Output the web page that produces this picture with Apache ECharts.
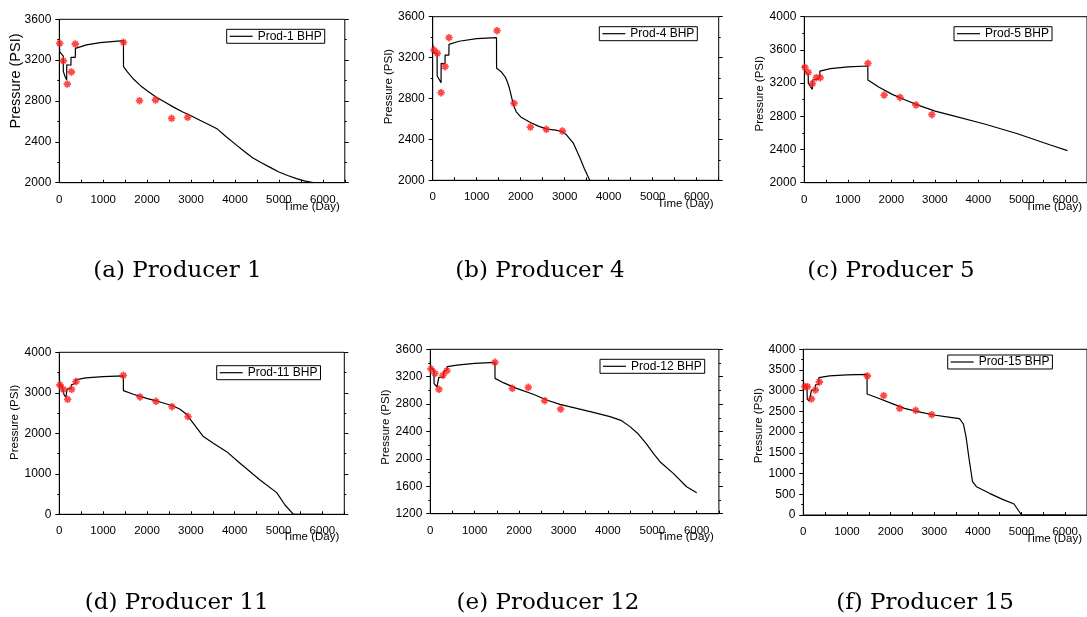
<!DOCTYPE html>
<html><head><meta charset="utf-8">
<script src="https://cdn.jsdelivr.net/npm/echarts@6/dist/echarts.min.js"></script>
<style>html,body{margin:0;padding:0;background:#fff}#c{width:1087px;height:617px}</style>
</head><body><div id="c"></div>
<script>
// ---- data: [time (day), pressure (psi)] ----
const prod1Sim = [[0,3400],[10,3280],[90,3240],[92,3090],[130,3040],[168,3005],[170,3155],[265,3150],[267,3228],[365,3228],[367,3316],[620,3349],[930,3371],[1460,3392],[1462,3136],[1550,3085],[1700,3010],[1850,2950],[2000,2900],[2200,2840],[2400,2790],[2600,2740],[2800,2695],[3000,2655],[3200,2612],[3400,2570],[3600,2525],[3800,2450],[4000,2380],[4200,2310],[4400,2245],[4600,2195],[4800,2150],[5000,2105],[5200,2070],[5400,2040],[5600,2015],[5780,2000]];
const prod1Obs = [[10,3365],[91,3192],[182,2966],[274,3084],[365,3358],[1461,3375],[1826,2803],[2191,2810],[2557,2630],[2922,2640]];

const prod4Sim = [[0,3330],[15,3250],[100,3235],[102,3020],[190,2955],[192,3144],[280,3140],[282,3225],[368,3225],[370,3330],[600,3360],[1000,3385],[1450,3395],[1452,3095],[1550,3065],[1650,3010],[1700,2960],[1750,2890],[1800,2800],[1850,2720],[1900,2670],[2000,2620],[2200,2570],[2400,2530],[2600,2500],[2800,2490],[2950,2475],[3050,2440],[3200,2360],[3350,2215],[3450,2110],[3570,2000]];
const prod4Obs = [[30,3274],[106,3242],[190,2857],[280,3111],[371,3395],[1462,3463],[1848,2752],[2220,2521],[2583,2499],[2947,2482]];

const prod5Sim = [[0,3398],[10,3340],[90,3309],[92,3200],[140,3160],[185,3125],[187,3237],[280,3245],[282,3269],[356,3275],[358,3345],[600,3375],[1000,3395],[1460,3406],[1462,3237],[1720,3149],[2023,3064],[2326,2996],[2629,2932],[3008,2863],[3386,2811],[4144,2707],[4902,2590],[5659,2454],[6050,2386]];
const prod5Obs = [[15,3390],[90,3329],[187,3193],[276,3265],[366,3265],[1463,3438],[1836,3056],[2201,3028],[2567,2936],[2933,2819]];

const prod11Sim = [[0,3520],[8,3210],[60,3170],[95,3130],[110,2950],[150,2890],[178,2870],[180,3100],[270,3100],[275,3200],[365,3230],[370,3317],[600,3370],[1000,3400],[1460,3416],[1462,3053],[1688,2963],[1992,2864],[2297,2774],[2601,2675],[2753,2593],[2905,2469],[3057,2247],[3285,1918],[3513,1753],[3817,1547],[4122,1259],[4578,848],[4958,535],[5148,230],[5340,0],[6000,0]];
const prod11Obs = [[15,3193],[91,3086],[190,2840],[281,3086],[380,3276],[1460,3432],[1840,2897],[2205,2790],[2570,2658],[2935,2412]];

const prod12Sim = [[0,3420],[10,3330],[83,3298],[85,3100],[150,3050],[190,3030],[192,3191],[300,3195],[305,3280],[370,3300],[380,3347],[600,3370],[1000,3395],[1456,3410],[1458,3176],[1644,3113],[1944,3030],[2320,2943],[2620,2860],[2920,2797],[3296,2738],[3671,2680],[4047,2617],[4309,2558],[4497,2471],[4685,2363],[4872,2217],[5023,2081],[5173,1959],[5473,1789],[5773,1594],[6000,1507]];
const prod12Obs = [[15,3313],[105,3249],[195,3016],[285,3220],[375,3288],[1456,3410],[1847,3030],[2207,3045],[2575,2850],[2935,2728]];

const prod15Sim = [[0,3115],[85,3100],[90,2793],[140,2750],[185,2736],[187,3018],[275,3018],[277,3139],[355,3150],[359,3316],[600,3360],[1000,3385],[1460,3396],[1462,2922],[1722,2817],[2021,2696],[2320,2575],[2620,2495],[2994,2414],[3368,2358],[3578,2326],[3668,2197],[3728,1891],[3802,1328],[3877,805],[3967,684],[4266,523],[4566,378],[4828,266],[5000,0],[6010,0]];
const prod15Obs = [[37,3099],[97,3099],[187,2801],[277,3018],[367,3211],[1467,3356],[1841,2881],[2208,2575],[2575,2527],[2942,2422]];

const seriesNames = ['Prod-1 BHP','Prod-4 BHP','Prod-5 BHP','Prod-11 BHP','Prod-12 BHP','Prod-15 BHP'];
const captions = ['(a) Producer 1','(b) Producer 4','(c) Producer 5','(d) Producer 11','(e) Producer 12','(f) Producer 15'];
const xMin = 0, xMax = 6500, xStep = 1000;
const yMin = [2000,2000,2000,0,1200,0];
const yMax = [3600,3600,4000,4000,3600,4000];
const yStep = [400,400,400,1000,400,500];
const yAxisTitle = 'Pressure (PSI)';
const xAxisTitle = 'Time (Day)';

const simData = [prod1Sim,prod4Sim,prod5Sim,prod11Sim,prod12Sim,prod15Sim];
const obsData = [prod1Obs,prod4Obs,prod5Obs,prod11Obs,prod12Obs,prod15Obs];

// ---- layout (pixels) ----
const layout = [
  {grid:[59.3,19.3,285.5,163.4], legend:[226.7,29.3], cap:[177.5,260], yName:14.5, yShift:20, xPad:18},
  {grid:[432.7,16.7,286,163.6], legend:[599.3,26.7], cap:[540,260], yName:11.5, yShift:12, xPad:18},
  {grid:[804.3,16.7,288,166], legend:[954,26.7], cap:[891,260], yName:11.5, yShift:6, xPad:18},
  {grid:[59.3,352.3,285,162], legend:[216.7,365.7], cap:[176.7,592], yName:11.5, yShift:11, xPad:17},
  {grid:[430.3,349.3,288.6,164.4], legend:[600,359.3], cap:[548,592], yName:11.5, yShift:4.5, xPad:17},
  {grid:[803.3,349.3,289.5,165.7], legend:[947.7,355], cap:[925,592], yName:11.5, yShift:6.5, xPad:18}
];

const sans = 'Liberation Sans, Arial, sans-serif';
const starPath = 'path://M3.8,0H6.2V10H3.8Z M0,3.8H10V6.2H0Z M0.8,2.5L2.5,0.8L9.2,7.5L7.5,9.2Z M7.5,0.8L9.2,2.5L2.5,9.2L0.8,7.5Z';
const plain = v => String(v);

const option = {
  animation:false,
  backgroundColor:'#fff',
  grid:[], xAxis:[], yAxis:[], series:[], legend:[], title:[]
};

layout.forEach((L,i)=>{
  option.grid.push({left:L.grid[0], top:L.grid[1], width:L.grid[2], height:L.grid[3],
    show:true, borderColor:'#000', borderWidth:1, backgroundColor:'transparent', containLabel:false});
  option.xAxis.push({type:'value', gridIndex:i, min:xMin, max:xMax, interval:xStep,
    name:xAxisTitle, nameLocation:'end', nameGap:-5, nameMoveOverlap:false,
    nameTextStyle:{fontFamily:sans, fontSize:11.5, color:'#000', align:'right', verticalAlign:'top', padding:[L.xPad,0,0,0]},
    axisLine:{show:true, lineStyle:{color:'#000', width:1}},
    axisTick:{show:true, inside:true, length:3, lineStyle:{color:'#000'}},
    minorTick:{show:true, splitNumber:2, length:3, lineStyle:{color:'#000'}},
    axisLabel:{fontFamily:sans, fontSize:11.5, color:'#000', margin:11, showMaxLabel:false, formatter:plain},
    splitLine:{show:false}});
  option.yAxis.push({type:'value', gridIndex:i, min:yMin[i], max:yMax[i], interval:yStep[i],
    name:yAxisTitle, nameLocation:'middle', nameGap: L.yName>12?36:38, nameRotate:90, nameMoveOverlap:false,
    nameTextStyle:{fontFamily:sans, fontSize:L.yName, color:'#000', padding:[0,0,0,2*L.yShift]},
    axisLine:{show:true, lineStyle:{color:'#000', width:1}},
    axisTick:{show:true, inside:false, length:4, lineStyle:{color:'#000'}},
    minorTick:{show:true, splitNumber:2, length:2, lineStyle:{color:'#000'}},
    axisLabel:{fontFamily:sans, fontSize:12, color:'#000', margin:8, formatter:plain},
    splitLine:{show:false}});
  option.yAxis.push({type:'value', gridIndex:i, position:'right', min:yMin[i], max:yMax[i], interval:yStep[i],
    axisLine:{show:false},
    axisTick:{show:true, inside:false, length:4, lineStyle:{color:'#000'}},
    minorTick:{show:true, splitNumber:2, length:2, lineStyle:{color:'#000'}},
    axisLabel:{show:false}, splitLine:{show:false}});
  option.series.push({type:'line', name:seriesNames[i], xAxisIndex:i, yAxisIndex:2*i,
    data:simData[i], showSymbol:false, symbol:'none', color:'#000',
    lineStyle:{color:'#000', width:1.2}, itemStyle:{color:'#000'}, z:2});
  option.series.push({type:'scatter', name:seriesNames[i]+' obs', xAxisIndex:i, yAxisIndex:2*i,
    data:obsData[i], symbol:starPath, symbolSize:7.5, itemStyle:{color:'#ff1a1a'}, z:3});
  option.legend.push({left:L.legend[0], top:L.legend[1], data:[seriesNames[i]], icon:'rect',
    itemWidth:23, itemHeight:1.2, itemGap:0, padding:[1,3,1,3], borderColor:'#000', borderWidth:1,
    backgroundColor:'#fff', selectedMode:false, orient:'horizontal',
    textStyle:{fontFamily:sans, fontSize:12, color:'#000'}});
  option.title.push({text:captions[i], left:L.cap[0], top:L.cap[1], textAlign:'center', padding:0,
    textStyle:{fontFamily:'DejaVu Serif, serif', fontSize:23, fontWeight:'normal', color:'#000'}});
});

const chart = echarts.init(document.getElementById('c'), null, {renderer:'canvas'});
chart.setOption(option);
</script>
</body></html>
